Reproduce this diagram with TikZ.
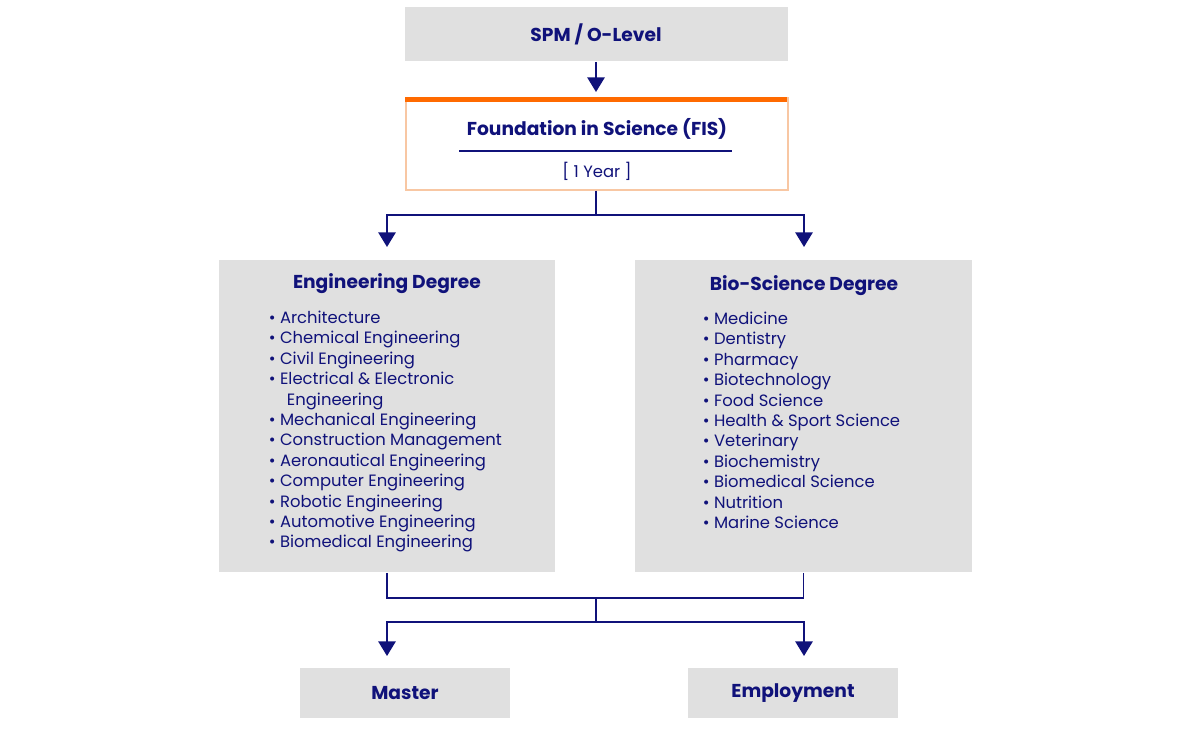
\documentclass[tikz,border=0pt]{standalone}
\usepackage{fontspec}
\setmainfont{Poppins}
\usetikzlibrary{positioning}
\usetikzlibrary{arrows.meta}
\definecolor{navy}{HTML}{10127A}
\definecolor{boxgray}{HTML}{E0E0E0}
\definecolor{fisorange}{HTML}{FF6A00}
\definecolor{fisborder}{HTML}{F8C7A3}
\newcommand{\itm}{\textbullet\ }

\begin{document}
\begin{tikzpicture}[x=0.75pt, y=-0.75pt, >={Triangle[width=13pt,length=11pt]}, draw=navy, line width=1.4pt, font=\color{navy}]
    \tikzstyle{box}=[fill=boxgray,draw=none,rectangle,inner sep=0pt]
    \tikzstyle{title}=[font=\bfseries\fontsize{14}{16}\selectfont\color{navy}]
    \tikzstyle{list}=[font=\fontsize{12.3}{15.3}\selectfont\color{navy}, align=left, anchor=north west, inner sep=0pt]

    \useasboundingbox (0,0) rectangle (1191,729);

	\node[box, minimum width=383*0.75pt, minimum height=54*0.75pt, title] (spm) at (596,34) {SPM / O-Level};
	\node[rectangle, draw=fisborder, line width=0.8pt, fill=white, minimum width=382*0.75pt, minimum height=92*0.75pt] (fis) at (597,144) {};
	\fill[fisorange] (fis.north west) rectangle ++(382,5);
	\node[title] (fist) at (597,129) {Foundation in Science (FIS)};
	\draw[line width=1pt] (459,151) -- (732,151);
	\node[font=\fontsize{12.3}{14}\selectfont\color{navy}] (year) at (597,171) {[ 1 Year ]};

	\node[box, minimum width=336*0.75pt, minimum height=312*0.75pt] (eng) at (387,416) {};
	\node[box, minimum width=337*0.75pt, minimum height=312*0.75pt] (bio) at (803.5,416) {};
	\node[title] at (387,284) {Engineering Degree};
	\node[title] at (804,286) {Bio-Science Degree};

	\node[list] (englist) at (268,310) {\itm Architecture\\ \itm Chemical Engineering\\ \itm Civil Engineering\\ \itm Electrical \& Electronic\\ \hspace{1.1em}Engineering\\ \itm Mechanical Engineering\\ \itm Construction Management\\ \itm Aeronautical Engineering\\ \itm Computer Engineering\\ \itm Robotic Engineering\\ \itm Automotive Engineering\\ \itm Biomedical Engineering};
	\node[list] (biolist) at (702,311) {\itm Medicine\\ \itm Dentistry\\ \itm Pharmacy\\ \itm Biotechnology\\ \itm Food Science\\ \itm Health \& Sport Science\\ \itm Veterinary\\ \itm Biochemistry\\ \itm Biomedical Science\\ \itm Nutrition\\ \itm Marine Science};

	\node[box, minimum width=210*0.75pt, minimum height=50*0.75pt, title] (master) at (405,693) {Master};
	\node[box, minimum width=210*0.75pt, minimum height=50*0.75pt, title] (employ) at (793,693) {Employment};

	\coordinate (split) at (596,215);
	\coordinate (join) at (596,598);
	\coordinate (fork) at (596,622);
	\coordinate (fistop) at (596,92);

	\draw[->] (spm.south) -- (fistop);
	\draw (fis.south -| split) -- (split);
	\draw[->] (split) -| (387,247);
	\draw[->] (split) -| (804,247);
	\draw (eng.south) |- (join);
	\draw (bio.south) |- (join);
	\draw (join) -- (fork);
	\draw[->] (fork) -| (387,656);
	\draw[->] (fork) -| (804,656);
\end{tikzpicture}
\end{document}
